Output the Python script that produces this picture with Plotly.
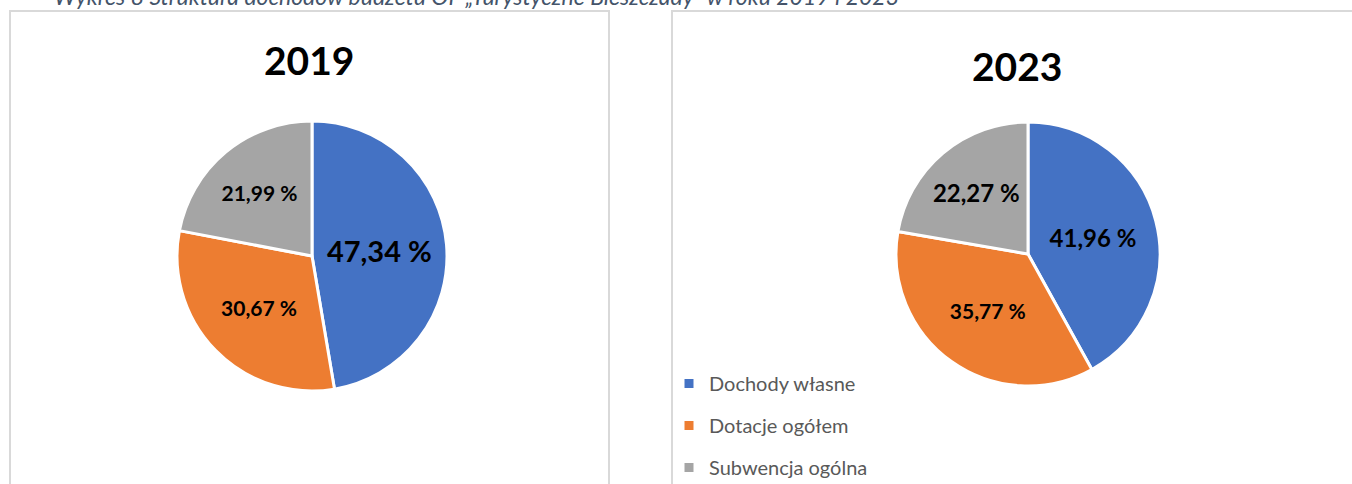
import plotly.graph_objects as go

W, H = 1352, 484

categories = ["Dochody własne", "Dotacje ogółem", "Subwencja ogólna"]
share_2019 = [47.34, 30.67, 21.99]
share_2023 = [41.96, 35.77, 22.27]
years = ["2019", "2023"]
colors = ["#4472C4", "#ED7D31", "#A5A5A5"]
caption = "Wykres 8 Struktura dochodów budżetu OF „Turystyczne Bieszczady” w roku 2019 i 2023"


def px_x(v):
    return v / W


def px_y(v):
    return 1 - v / H


fig = go.Figure()

# pies
fig.add_trace(go.Pie(
    labels=categories, values=share_2019, sort=False, direction="clockwise", rotation=0,
    marker=dict(colors=colors, line=dict(color="white", width=3)),
    texttemplate="%{value:.2f} %", textposition="inside", insidetextorientation="horizontal",
    textfont=dict(family="Lato", color="black", size=[29, 21, 21], weight="bold"),
    domain=dict(x=[px_x(177), px_x(447)], y=[px_y(391), px_y(121)]),
    showlegend=False, hoverinfo="label+percent",
))
fig.add_trace(go.Pie(
    labels=categories, values=share_2023, sort=False, direction="clockwise", rotation=0,
    marker=dict(colors=colors, line=dict(color="white", width=3)),
    texttemplate="%{value:.2f} %", textposition="inside", insidetextorientation="horizontal",
    textfont=dict(family="Lato", color="black", size=[24, 21, 24], weight="bold"),
    domain=dict(x=[px_x(896), px_x(1160)], y=[px_y(386), px_y(122)]),
    showlegend=False, hoverinfo="label+percent",
))

# legend entries (separate groups so the rows can be spaced out)
for name, col in zip(categories, colors):
    fig.add_trace(go.Scatter(
        x=[None], y=[None], mode="markers", name=name, legendgroup=name,
        marker=dict(symbol="square", size=9, color=col),
    ))

# panel frames
for x0, x1 in [(10, 609), (672, 1370)]:
    fig.add_shape(type="rect", xref="paper", yref="paper",
                  x0=px_x(x0), x1=px_x(x1), y0=-0.1, y1=px_y(11),
                  line=dict(color="#D9D9D9", width=2), fillcolor="rgba(0,0,0,0)", layer="below")

# titles
for yr, cx, cy in zip(years, [309, 1017], [60, 66]):
    fig.add_annotation(text="<b>%s</b>" % yr, xref="paper", yref="paper",
                       x=px_x(cx), y=px_y(cy), xanchor="center", yanchor="middle",
                       showarrow=False, font=dict(family="Lato", size=39, color="black"))

# caption cut off at the top
fig.add_annotation(text="<i>%s</i>" % caption, xref="paper", yref="paper",
                   x=px_x(52), y=px_y(-4), xanchor="left", yanchor="middle",
                   showarrow=False, font=dict(family="Lato", size=23, color="#44546A"))

fig.update_layout(
    width=W, height=H,
    margin=dict(l=0, r=0, t=0, b=0, autoexpand=False),
    paper_bgcolor="white", plot_bgcolor="white",
    separators=", ",
    xaxis=dict(visible=False), yaxis=dict(visible=False),
    showlegend=True,
    legend=dict(x=px_x(669), y=px_y(364), xanchor="left", yanchor="top",
                font=dict(family="Lato", size=20, color="#595959"),
                tracegroupgap=13, itemwidth=30, bgcolor="rgba(0,0,0,0)"),
)

fig.write_html("out.html", config={"displayModeBar": False},
               post_script="document.body.style.margin='0';")
